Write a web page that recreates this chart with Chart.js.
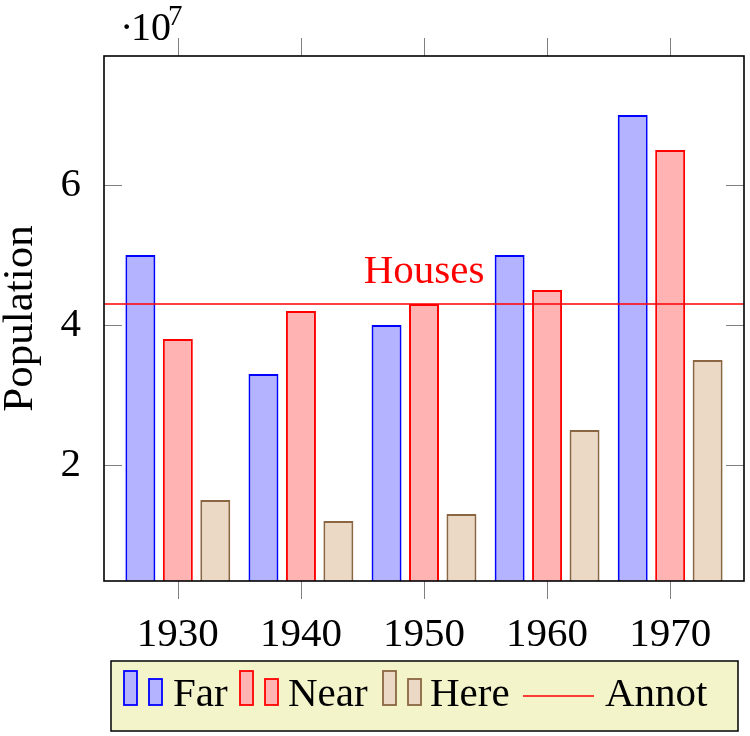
<!DOCTYPE html>
<html>
<head>
<meta charset="utf-8">
<script src="https://cdn.jsdelivr.net/npm/chart.js@4/dist/chart.umd.min.js"></script>
<style>
  html,body{margin:0;padding:0;background:#fff;}
  #wrap{width:750px;height:736px;position:relative;}
</style>
</head>
<body>
<div id="wrap"><canvas id="chart"></canvas></div>
<script>
// data
const YEARS = [1930, 1940, 1950, 1960, 1970];
const FAR  = [5.0e7, 3.3e7, 4.0e7, 5.0e7, 7.0e7];
const NEAR = [3.8e7, 4.2e7, 4.3e7, 4.5e7, 6.5e7];
const HERE = [1.5e7, 1.2e7, 1.3e7, 2.5e7, 3.5e7];
const HOUSES = 4.3e7;
const Y_TICKS = [2e7, 4e7, 6e7];
const X_RANGE = [1924, 1976];
const Y_RANGE = [0.343e7, 7.843e7];

const FONT = "'Liberation Serif', 'DejaVu Serif', serif";

const BLUE = {fill:"#b3b3ff", edge:"#0000ff"};
const RED = {fill:"#ffb3b3", edge:"#ff0000"};
const BROWN = {fill:"#ebd9c5", edge:"#8a6642"};

function pts(vals){ return YEARS.map((x,i)=>({x:x, y:vals[i]})); }

function barSet(label, vals, c){
  return {
    type:"bar", label:label, data:pts(vals),
    backgroundColor:c.fill, borderColor:c.edge, borderWidth:2,
    borderSkipped:false,
    categoryPercentage:0.913, barPercentage:0.8
  };
}

const decor = {
  id:"decor",
  afterDatasetsDraw(chart){
    const {ctx, chartArea:a, scales:{x, y}} = chart;
    const seg = (x1,y1,x2,y2)=>{ ctx.beginPath(); ctx.moveTo(x1,y1); ctx.lineTo(x2,y2); ctx.stroke(); };
    ctx.save();

    // tick marks: x outside (top + bottom), y inside (left + right)
    ctx.strokeStyle = "#808080";
    ctx.lineWidth = 1;
    x.ticks.forEach(t=>{
      const px = Math.round(x.getPixelForValue(t.value)) + 0.5;
      seg(px, a.top-18, px, a.top);
      seg(px, a.bottom, px, a.bottom+18);
    });
    y.ticks.forEach(t=>{
      const py = Math.round(y.getPixelForValue(t.value)) + 0.5;
      seg(a.left, py, a.left+18, py);
      seg(a.right-18, py, a.right, py);
    });

    // axis box
    ctx.strokeStyle = "#000";
    ctx.lineWidth = 1.6;
    ctx.strokeRect(a.left, a.top, a.right-a.left, a.bottom-a.top);

    // "Houses" label sitting on the line, centred at 1950
    ctx.fillStyle = "#ff0000";
    ctx.font = "41px " + FONT;
    ctx.textAlign = "center";
    ctx.textBaseline = "alphabetic";
    ctx.fillText("Houses", x.getPixelForValue(1950), y.getPixelForValue(HOUSES) - 21);

    // scale factor ·10^7
    ctx.fillStyle = "#000";
    ctx.textAlign = "left";
    ctx.font = "40px " + FONT;
    ctx.fillText("\u00b7", 120, 40);
    ctx.fillText("10", 131, 40);
    ctx.font = "29px " + FONT;
    ctx.fillText("7", 168, 25);

    // legend
    ctx.fillStyle = "#f4f4ca";
    ctx.fillRect(111, 661, 627, 70);
    ctx.strokeStyle = "#000";
    ctx.lineWidth = 1.5;
    ctx.strokeRect(111, 661, 627, 70);

    const items = [
      {c:BLUE, text:"Far", ix:124, tx:173},
      {c:RED, text:"Near", ix:240, tx:288},
      {c:BROWN, text:"Here", ix:383, tx:430}
    ];
    ctx.font = "41px " + FONT;
    ctx.textBaseline = "alphabetic";
    items.forEach(it=>{
      ctx.fillStyle = it.c.fill;
      ctx.strokeStyle = it.c.edge;
      ctx.lineWidth = 1.8;
      ctx.fillRect(it.ix, 671, 13, 34);
      ctx.strokeRect(it.ix, 671, 13, 34);
      ctx.fillRect(it.ix+25, 679, 13, 26);
      ctx.strokeRect(it.ix+25, 679, 13, 26);
      ctx.fillStyle = "#000";
      ctx.fillText(it.text, it.tx, 706);
    });
    ctx.strokeStyle = "#ff0000";
    ctx.lineWidth = 1.5;
    seg(523, 696, 594, 696);
    ctx.fillStyle = "#000";
    ctx.fillText("Annot", 605, 706);

    ctx.restore();
  }
};

new Chart(document.getElementById("chart"), {
  data:{
    datasets:[
      {
        type:"line", label:"Annot",
        data:[{x:X_RANGE[0], y:HOUSES}, {x:X_RANGE[1], y:HOUSES}],
        borderColor:"#ff0000", borderWidth:1.6, pointRadius:0, order:-1
      },
      barSet("Far", FAR, BLUE),
      barSet("Near", NEAR, RED),
      barSet("Here", HERE, BROWN)
    ]
  },
  options:{
    responsive:true,
    maintainAspectRatio:false,
    animation:false,
    devicePixelRatio:1,
    layout:{ padding:{top:56, right:6, bottom:80, left:0} },
    plugins:{ legend:{display:false}, tooltip:{enabled:false} },
    scales:{
      x:{
        type:"linear", position:"bottom",
        min:X_RANGE[0], max:X_RANGE[1], offset:false,
        afterBuildTicks:s=>{ s.ticks = YEARS.map(v=>({value:v})); },
        afterFit:s=>{ s.height = 75; },
        grid:{display:false},
        border:{display:false},
        ticks:{
          padding:22, color:"#000",
          font:{family:FONT, size:41},
          maxRotation:0, autoSkip:false,
          callback:v=>String(v)
        }
      },
      y:{
        type:"linear", position:"left",
        min:Y_RANGE[0], max:Y_RANGE[1],
        afterBuildTicks:s=>{ s.ticks = Y_TICKS.map(v=>({value:v})); },
        afterFit:s=>{ s.width = 104; },
        grid:{display:false},
        border:{display:false},
        ticks:{
          padding:15, color:"#000",
          font:{family:FONT, size:41},
          callback:v=>String(v/1e7)
        },
        title:{
          display:true, text:"Population", color:"#000",
          font:{family:FONT, size:43, lineHeight:0.95},
          padding:0
        }
      }
    }
  },
  plugins:[decor]
});
</script>
</body>
</html>
